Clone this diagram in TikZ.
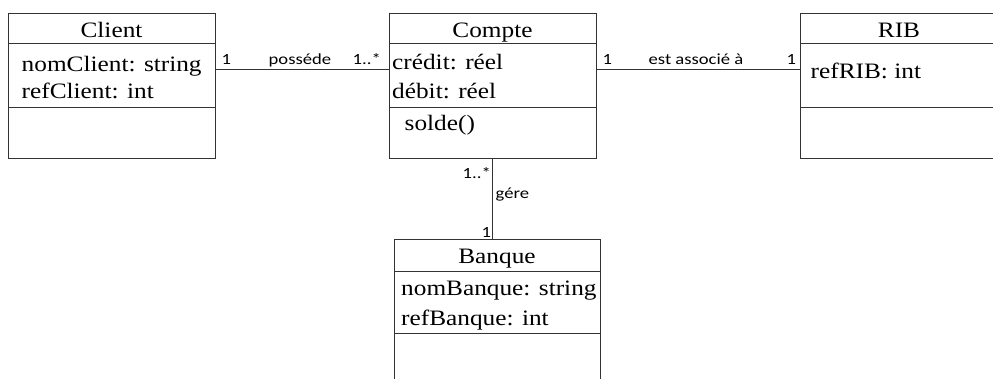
\documentclass[tikz,border=0pt]{standalone}
\usepackage{graphicx}
\usepackage{fontspec}
\setmainfont{Liberation Serif}
\newfontfamily\lblfont{Carlito}
\newcommand{\sx}[1]{\scalebox{1.15}[1]{#1}}
\newcommand{\lx}[1]{\scalebox{1.2}[1]{#1}}
\begin{document}
\begin{tikzpicture}[x=1pt,y=-1pt,
  classbox/.style={draw=black!80,line width=1pt,rectangle,inner sep=0pt,outer sep=0pt,anchor=north west},
  sep/.style={draw=black!80,line width=1pt},
  conn/.style={draw=black!80,line width=1pt},
  ctitle/.style={anchor=base,inner sep=0pt,font=\rmfamily\fontsize{22}{26}\selectfont},
  attr/.style={anchor=base west,inner sep=0pt,font=\rmfamily\fontsize{22}{26}\selectfont},
  lbl/.style={anchor=base west,inner sep=0pt,font=\lblfont\fontsize{15.5}{18}\selectfont}]
\useasboundingbox (0,0) rectangle (993,378);
\clip (0,0) rectangle (993,378);
\fill[white] (0,0) rectangle (993,378);
% Client
\node[classbox,minimum width=207pt,minimum height=145pt] (client) at (8,13) {};
\draw[sep] (8,43) -- (215,43);
\draw[sep] (8,107) -- (215,107);
\node[ctitle] (clientT) at (111.5,37) {\sx{Client}};
\node[attr] (clientA1) at (21.5,71) {\sx{nomClient: string}};
\node[attr] (clientA2) at (21.5,98) {\sx{refClient: int}};
% Compte
\node[classbox,minimum width=207pt,minimum height=145pt] (compte) at (389,13) {};
\draw[sep] (389,43) -- (596,43);
\draw[sep] (389,107) -- (596,107);
\node[ctitle] (compteT) at (492.5,37) {\sx{Compte}};
\node[attr] (compteA1) at (392,69) {\sx{crédit: réel}};
\node[attr] (compteA2) at (392,98) {\sx{débit: réel}};
\node[attr] (compteM1) at (404.5,130) {\sx{solde()}};
% RIB
\node[classbox,minimum width=210pt,minimum height=145pt] (rib) at (800,13) {};
\draw[sep] (800,43) -- (1010,43);
\draw[sep] (800,107) -- (1010,107);
\node[ctitle] (ribT) at (899,37) {\sx{RIB}};
\node[attr] (ribA1) at (810.5,78) {\sx{refRIB: int}};
% Banque
\node[classbox,minimum width=206pt,minimum height=160pt] (banque) at (394,239) {};
\draw[sep] (394,271) -- (600,271);
\draw[sep] (394,333) -- (600,333);
\node[ctitle] (banqueT) at (497,263) {\sx{Banque}};
\node[attr] (banqueA1) at (401,295) {\sx{nomBanque: string}};
\node[attr] (banqueA2) at (401,325) {\sx{refBanque: int}};
% connectors
\draw[conn] ([yshift=16.5pt]client.east) -- ([yshift=16.5pt]compte.west);
\draw[conn] ([yshift=16.5pt]compte.east) -- ([yshift=16.5pt]rib.west);
\draw[conn] (compte.south) -- (compte.south |- banque.north);
% labels
\node[lbl] (l1) at (221.5,64) {\lx{1}};
\node[lbl] (l2) at (268.5,64) {\lx{posséde}};
\node[lbl] (l3) at (352.5,64) {\lx{1..*}};
\node[lbl] (l4) at (602.5,64) {\lx{1}};
\node[lbl] (l5) at (648.5,64) {\lx{est associé à}};
\node[lbl] (l6) at (786.5,64) {\lx{1}};
\node[lbl] (l7) at (462.5,178) {\lx{1..*}};
\node[lbl] (l8) at (495.5,198) {\lx{gére}};
\node[lbl] (l9) at (481.5,237) {\lx{1}};
\end{tikzpicture}
\end{document}
